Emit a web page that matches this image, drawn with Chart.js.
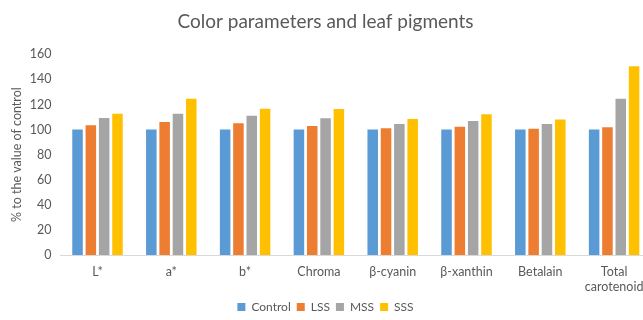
<!DOCTYPE html>
<html>
<head>
<meta charset="utf-8">
<script src="https://cdn.jsdelivr.net/npm/chart.js@4/dist/chart.umd.min.js"></script>
<style>
  html, body { margin: 0; padding: 0; background: #ffffff; overflow: hidden; }
  #wrap { position: relative; width: 660px; height: 320px; }
</style>
</head>
<body>
<div id="wrap"><canvas id="chart" width="660" height="320"></canvas></div>
<script>
// Categories and values (% of control)
const categories = ['L*', 'a*', 'b*', 'Chroma', 'β-cyanin', 'β-xanthin', 'Betalain', ['Total', 'carotenoid']];
const control = [100, 100, 100, 100, 100, 100, 100, 100];
const lss = [103.5, 106, 105, 102.8, 101, 102.3, 100.7, 101.8];
const mss = [109.2, 112.6, 111, 109, 104.4, 106.8, 104.4, 124.6];
const sss = [112.6, 124.6, 116.6, 116.4, 108.4, 112.2, 108, 150.4];
const yTicks = [0, 20, 40, 60, 80, 100, 120, 140, 160];

const FONT = 'Lato, "Liberation Sans", sans-serif';
const TEXT = '#595959';

function series(label, data, color) {
  return {
    label, data,
    backgroundColor: color,
    borderWidth: 0,
    categoryPercentage: 0.722,
    barPercentage: 0.79
  };
}

new Chart(document.getElementById('chart'), {
  type: 'bar',
  data: {
    labels: categories,
    datasets: [
      series('Control', control, '#5B9BD5'),
      series('LSS', lss, '#ED7D31'),
      series('MSS', mss, '#A5A5A5'),
      series('SSS', sss, '#FFC000')
    ]
  },
  options: {
    responsive: false,
    animation: false,
    devicePixelRatio: 1,
    layout: { padding: { left: 0, right: 9, top: 0, bottom: -3 } },
    plugins: {
      title: {
        display: true,
        text: 'Color parameters and leaf pigments',
        color: TEXT,
        font: { family: FONT, size: 19, weight: 'normal' },
        padding: { top: 10, bottom: 21.5 }
      },
      legend: {
        position: 'bottom',
        labels: {
          color: TEXT,
          font: { family: FONT, size: 12 },
          boxWidth: 8,
          boxHeight: 8,
          padding: 6
        }
      },
      tooltip: { enabled: false }
    },
    scales: {
      x: {
        grid: { display: false, drawTicks: false },
        border: { display: true, color: '#D9D9D9', width: 1 },
        ticks: {
          color: TEXT,
          font: { family: FONT, size: 12.5 },
          padding: 9,
          maxRotation: 0,
          autoSkip: false
        },
        afterFit(scale) { scale.height = 40; }
      },
      y: {
        min: 0,
        max: 160,
        afterBuildTicks(scale) { scale.ticks = yTicks.map(v => ({ value: v })); },
        grid: { display: false, drawTicks: false },
        border: { display: false },
        ticks: {
          color: TEXT,
          font: { family: FONT, size: 12.5 },
          padding: 9
        },
        title: {
          display: true,
          text: '% to the value of control',
          color: TEXT,
          font: { family: FONT, size: 12.5 },
          padding: { top: 9, bottom: 0 }
        },
        afterFit(scale) { scale.width = 60.6; }
      }
    }
  }
});
</script>
</body>
</html>
